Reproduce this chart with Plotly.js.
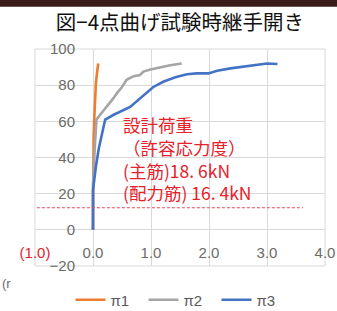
<!DOCTYPE html>
<html>
<head>
<meta charset="utf-8">
<script src="https://cdn.plot.ly/plotly-3.0.1.min.js"></script>
<style>
html,body{margin:0;padding:0;background:#fff;}
#chart{width:337px;height:311px;}
</style>
</head>
<body>
<div id="chart"></div>
<script>
// ---- data ----
const seriesNames = ['π1', 'π2', 'π3'];
const seriesColors = ['#ED7D31', '#A5A5A5', '#4472C4'];

const pi1X = [0, 0.0, 0.005, 0.01, 0.02, 0.03, 0.05, 0.07, 0.09];
const pi1Y = [0, 20, 35, 50, 60, 70, 81, 87, 92];

const pi2X = [0, 0.0, 0.03, 0.05, 0.06, 0.12, 0.24, 0.35, 0.41, 0.50, 0.58, 0.70, 0.81, 0.87, 0.99, 1.16, 1.33, 1.53];
const pi2Y = [0, 25, 45, 55, 61, 63.5, 68, 72.7, 75.5, 79, 83, 85, 85.6, 87.5, 88.7, 90, 91, 92];

const pi3X = [0, 0.0, 0.05, 0.10, 0.21, 0.35, 0.64, 0.78, 0.90, 1.04, 1.22, 1.42, 1.62, 1.79, 1.99, 2.14, 2.37, 2.72, 3.00, 3.18];
const pi3Y = [0, 22, 35, 45, 61, 63.5, 68, 72, 75.5, 79, 82, 84.4, 86, 86.5, 86.5, 88, 89.3, 91, 92, 91.7];

const xTickVals = [-1, 0, 1, 2, 3, 4];
const xTickText = ['(1.0)', '0.0', '1.0', '2.0', '3.0', '4.0'];
const yTickVals = [-20, 0, 20, 40, 60, 80, 100];

const designLoadY = 12.2;
const designLineX = [-1.14, 3.62];

const titleText = '図−4点曲げ試験時継手開き';
const noteLines = ['設計荷重', '（許容応力度）', '(主筋)18. 6kN', '(配力筋) 16. 4kN'];

// ---- build ----
const xs = [pi1X, pi2X, pi3X];
const ys = [pi1Y, pi2Y, pi3Y];
const traces = seriesNames.map((n, i) => ({
  x: xs[i], y: ys[i], name: n, type: 'scatter', mode: 'lines',
  line: {color: seriesColors[i], width: 2.6}
}));

const tickFont = {family: 'Liberation Sans, Arial, sans-serif', size: 15, color: '#6b6b6b'};
const red = '#e8202a';

const annotations = [{
  xref: 'paper', yref: 'paper', x: 0.295, y: 0.717, xanchor: 'left', yanchor: 'top', align: 'left',
  text: noteLines.join('<br>'), showarrow: false,
  font: {family: 'Noto Sans CJK JP, sans-serif', size: 17.5, color: red}
}, {
  xref: 'paper', yref: 'paper', x: -0.121, y: -0.08, xanchor: 'left', yanchor: 'middle',
  text: '(r', showarrow: false,
  font: {family: 'Liberation Sans, Arial, sans-serif', size: 13, color: '#6b6b6b'}
}];

const layout = {
  width: 337, height: 311,
  margin: {l: 35, r: 12, t: 49, b: 45, pad: 0, autoexpand: false},
  paper_bgcolor: '#ffffff', plot_bgcolor: '#ffffff',
  title: {
    text: titleText, xref: 'paper', x: 0.5, xanchor: 'center', yref: 'container', y: 0.928, yanchor: 'middle',
    font: {family: 'Noto Sans CJK JP, sans-serif', size: 20.5, color: '#111111'}
  },
  xaxis: {
    range: [-1, 4], tickvals: xTickVals,
    ticktext: xTickText.map((t, i) => i === 0 ? '<span style="color:' + red + '">' + t + '</span>' : t),
    showgrid: true, gridcolor: '#d9d9d9', gridwidth: 1, zeroline: false, showline: false,
    anchor: 'free', position: 0.11, ticks: '', tickfont: tickFont
  },
  yaxis: {
    range: [-20, 100], tickvals: yTickVals,
    showgrid: true, gridcolor: '#d9d9d9', gridwidth: 1, zeroline: false, showline: false,
    anchor: 'free', position: 0.2, ticks: 'outside', ticklen: 15, tickcolor: 'rgba(0,0,0,0)',
    tickfont: tickFont
  },
  showlegend: true,
  legend: {
    orientation: 'h', x: 0.5, xanchor: 'center', xref: 'paper', y: -0.157, yanchor: 'middle',
    font: {family: 'Liberation Sans, Arial, sans-serif', size: 15, color: '#595959'},
    bgcolor: 'rgba(0,0,0,0)', itemwidth: 30, entrywidth: 28, entrywidthmode: 'pixels'
  },
  shapes: [
    {type: 'rect', xref: 'x domain', yref: 'y domain', x0: 0, x1: 1, y0: 0, y1: 1,
     line: {color: '#d9d9d9', width: 1}, fillcolor: 'rgba(0,0,0,0)', layer: 'below'},
    {type: 'line', xref: 'x', yref: 'y', x0: designLineX[0], x1: designLineX[1], y0: designLoadY, y1: designLoadY,
     line: {color: '#ec4a5a', width: 1.2, dash: '3px,2px'}, layer: 'above'},
    {type: 'rect', xref: 'paper', yref: 'paper', x0: -0.125, x1: 1.045, y0: 1.195, y1: 1.24,
     line: {width: 0}, fillcolor: '#3a1c1a', layer: 'above'}
  ],
  annotations: annotations
};

Plotly.newPlot('chart', traces, layout, {displayModeBar: false, staticPlot: true});
</script>
</body>
</html>
